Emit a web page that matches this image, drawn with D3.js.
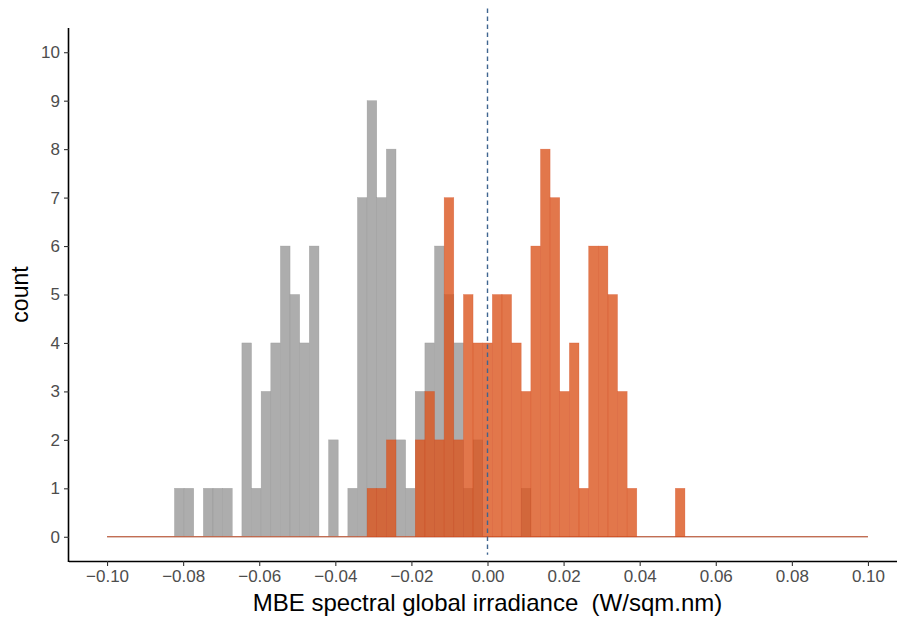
<!DOCTYPE html>
<html>
<head>
<meta charset="utf-8">
<script src="https://cdn.jsdelivr.net/npm/d3@7"></script>
<style>
  body { margin: 0; background: #fff; }
  svg { display: block; font-family: "Liberation Sans", Arial, sans-serif; }
</style>
</head>
<body>
<script>
// histogram bins: 79 bins of equal width spanning -0.10 .. 0.10
var binStart = -0.1;
var binEnd = 0.1;
var nBins = 79;

// counts per bin, grey series (first model)
var greyCounts = [
  0, 0, 0, 0, 0, 0, 0, 1, 1, 0,
  1, 1, 1, 0, 4, 1, 3, 4, 6, 5,
  4, 6, 0, 2, 0, 1, 7, 9, 7, 8,
  2, 1, 3, 4, 6, 5, 4, 1, 2, 0,
  0, 0, 0, 1, 0, 0, 0, 0, 0, 0,
  0, 0, 0, 0, 0, 0, 0, 0, 0, 0,
  0, 0, 0, 0, 0, 0, 0, 0, 0, 0,
  0, 0, 0, 0, 0, 0, 0, 0, 0
];

// counts per bin, orange series (second model)
var orangeCounts = [
  0, 0, 0, 0, 0, 0, 0, 0, 0, 0,
  0, 0, 0, 0, 0, 0, 0, 0, 0, 0,
  0, 0, 0, 0, 0, 0, 0, 1, 1, 2,
  0, 0, 2, 3, 2, 7, 2, 5, 4, 4,
  5, 5, 4, 3, 6, 8, 7, 3, 4, 1,
  6, 6, 5, 3, 1, 0, 0, 0, 0, 1,
  0, 0, 0, 0, 0, 0, 0, 0, 0, 0,
  0, 0, 0, 0, 0, 0, 0, 0, 0
];

var xTicks = [-0.1, -0.08, -0.06, -0.04, -0.02, 0, 0.02, 0.04, 0.06, 0.08, 0.1];
var yTicks = [0, 1, 2, 3, 4, 5, 6, 7, 8, 9, 10];

var W = 897, H = 618;
var panel = { left: 69, right: 906, top: 28, bottom: 561 };

var svg = d3.select("body").append("svg").attr("width", W).attr("height", H);

// ggplot-like scales with 5% expansion on each side
var x = d3.scaleLinear().domain([-0.11, 0.11]).range([panel.left, panel.right]);
var y = d3.scaleLinear().domain([-0.5, 10.5]).range([panel.bottom, panel.top]);

var binWidth = (binEnd - binStart) / nBins;
function toBins(counts) {
  return counts.map(function (c, i) {
    return { x0: binStart + i * binWidth, x1: binStart + (i + 1) * binWidth, count: c };
  });
}

function drawSeries(counts, fill, stroke, opacity) {
  var bins = toBins(counts);
  var g = svg.append("g");
  // baseline drawn by the empty bins
  g.append("line")
    .attr("x1", x(bins[0].x0))
    .attr("x2", x(bins[bins.length - 1].x1))
    .attr("y1", y(0))
    .attr("y2", y(0))
    .attr("stroke", stroke)
    .attr("stroke-opacity", opacity)
    .attr("stroke-width", 1.1);
  g.selectAll("rect")
    .data(bins.filter(function (d) { return d.count > 0; }))
    .enter()
    .append("rect")
    .attr("x", function (d) { return x(d.x0); })
    .attr("width", function (d) { return x(d.x1) - x(d.x0); })
    .attr("y", function (d) { return y(d.count); })
    .attr("height", function (d) { return y(0) - y(d.count); })
    .attr("fill", fill)
    .attr("fill-opacity", opacity)
    .attr("stroke", stroke)
    .attr("stroke-opacity", opacity * 0.6)
    .attr("stroke-width", 0.5);
}

drawSeries(greyCounts, "#adadad", "#8f8f8f", 1);
drawSeries(orangeCounts, "#db551e", "#d4461a", 0.8);

// dashed reference line at zero
svg.append("line")
  .attr("x1", x(0))
  .attr("x2", x(0))
  .attr("y1", y(10.9))
  .attr("y2", y(-0.37))
  .attr("stroke", "#3f6590")
  .attr("stroke-width", 1.4)
  .attr("stroke-dasharray", "4.5,3.5");

// x axis
var xAxis = svg.append("g")
  .attr("transform", "translate(0," + panel.bottom + ")")
  .call(d3.axisBottom(x).tickValues(xTicks).tickSize(5).tickPadding(4)
    .tickFormat(function (d) { return d3.format(".2f")(d).replace("-", "\u2212"); }));
xAxis.select(".domain").attr("stroke", "#000").attr("stroke-width", 1.6)
  .attr("d", "M" + panel.left + ",0.5H" + W);
xAxis.selectAll(".tick line").attr("stroke", "#333").attr("stroke-width", 1.1);
xAxis.selectAll(".tick text").attr("fill", "#4d4d4d").style("font-size", "17px")
  .style("font-family", "Liberation Sans, Arial, sans-serif");

// y axis
var yAxis = svg.append("g")
  .attr("transform", "translate(" + panel.left + ",0)")
  .call(d3.axisLeft(y).tickValues(yTicks).tickSize(5).tickPadding(4));
yAxis.select(".domain").attr("stroke", "#000").attr("stroke-width", 1.6)
  .attr("d", "M-0.5," + panel.top + "V" + (panel.bottom + 1));
yAxis.selectAll(".tick line").attr("stroke", "#333").attr("stroke-width", 1.1);
yAxis.selectAll(".tick text").attr("fill", "#4d4d4d").style("font-size", "17px")
  .style("font-family", "Liberation Sans, Arial, sans-serif");

// axis titles
svg.append("text")
  .attr("x", x(0))
  .attr("y", 611)
  .attr("text-anchor", "middle")
  .style("font-size", "24px")
  .style("white-space", "pre")
  .attr("fill", "#000")
  .text("MBE spectral global irradiance  (W/sqm.nm)");

svg.append("text")
  .attr("transform", "translate(28," + (panel.top + panel.bottom) / 2 + ") rotate(-90)")
  .attr("text-anchor", "middle")
  .style("font-size", "23px")
  .attr("fill", "#000")
  .text("count");
</script>
</body>
</html>
